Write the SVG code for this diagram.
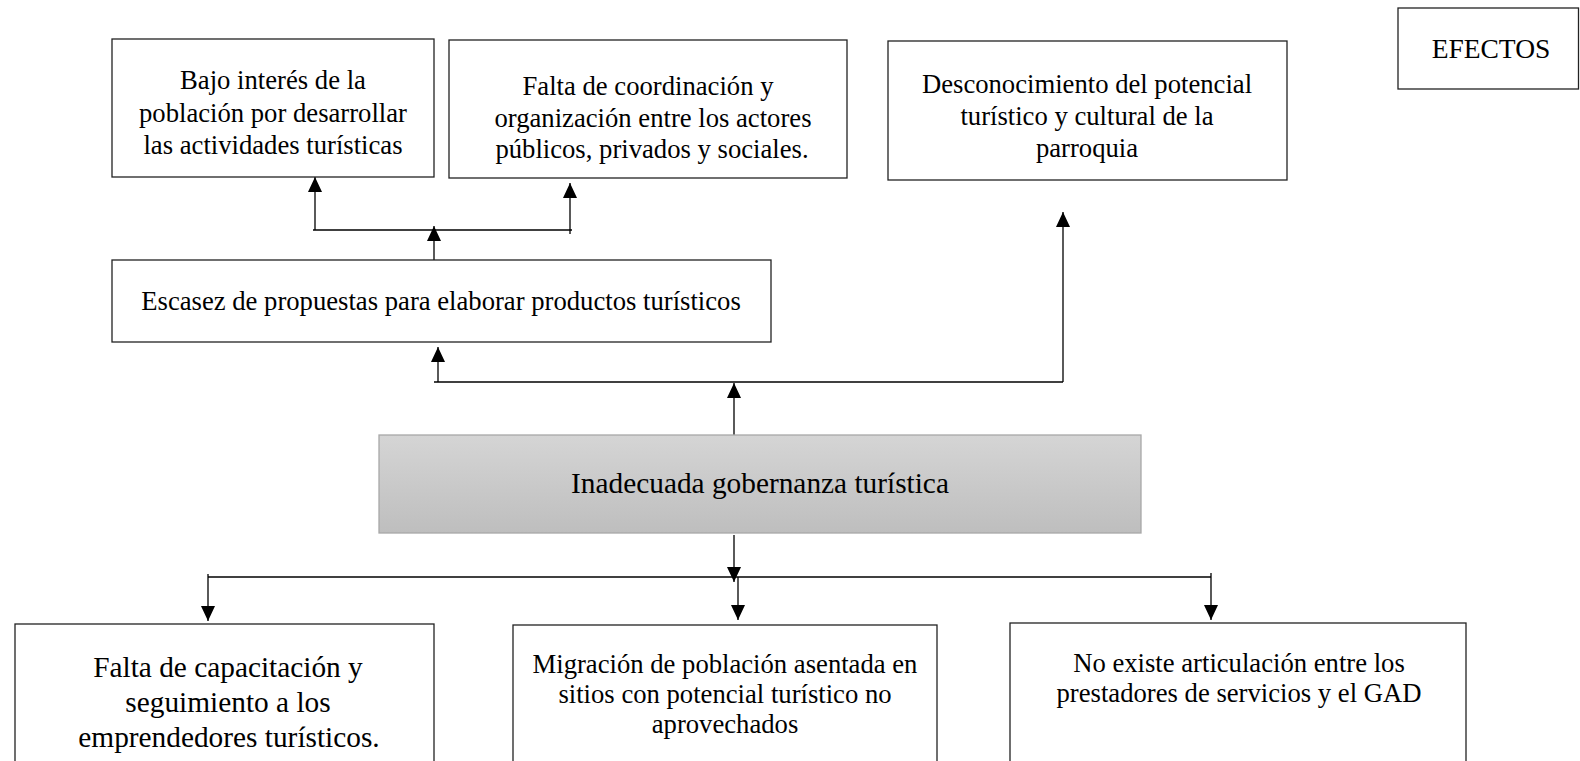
<svg xmlns="http://www.w3.org/2000/svg" width="1580" height="761" viewBox="0 0 1580 761">
  <defs>
    <style>
      .box { fill: #ffffff; stroke: #222222; stroke-width: 1.3; }
      .t { font-family: "Liberation Serif", "Times New Roman", serif; font-size: 26.67px; fill: #000000; text-anchor: middle; }
      .big { font-size: 29.33px; }
      .ln { fill: none; stroke: #000000; stroke-width: 1.3; }
      .arr { marker-end: url(#ah); }
    </style>
    <linearGradient id="grey" x1="0" y1="0" x2="0" y2="1">
      <stop offset="0" stop-color="#d5d5d5"/>
      <stop offset="1" stop-color="#bebebe"/>
    </linearGradient>
    <marker id="ah" markerUnits="userSpaceOnUse" viewBox="0 0 15 14" markerWidth="15" markerHeight="14" refX="15" refY="7" orient="auto">
      <path d="M0,0 L15,7 L0,14 Z" fill="#000000"/>
    </marker>
  </defs>

  <g id="connectors">
    <!-- Escasez up to effects -->
    <line class="ln arr" x1="434" y1="260" x2="434" y2="226"/>
    <line class="ln" x1="313" y1="230" x2="572" y2="230"/>
    <line class="ln arr" x1="315" y1="230" x2="315" y2="177"/>
    <line class="ln arr" x1="570" y1="234" x2="570" y2="183"/>
    <!-- Inadecuada up -->
    <line class="ln arr" x1="734" y1="435" x2="734" y2="383"/>
    <line class="ln" x1="434" y1="382" x2="1063" y2="382"/>
    <line class="ln arr" x1="438" y1="382" x2="438" y2="347"/>
    <line class="ln arr" x1="1063" y1="382" x2="1063" y2="212"/>
    <!-- Inadecuada down -->
    <line class="ln arr" x1="734" y1="535" x2="734" y2="582"/>
    <line class="ln" x1="208" y1="577" x2="1211" y2="577"/>
    <line class="ln arr" x1="208" y1="574" x2="208" y2="621"/>
    <line class="ln arr" x1="738" y1="577" x2="738" y2="620"/>
    <line class="ln arr" x1="1211" y1="573" x2="1211" y2="620"/>
  </g>

  <g id="efectos">
    <rect class="box" x="1398" y="8" width="180.5" height="81"/>
    <text class="t" x="1491" y="58" style="font-size:27.5px">EFECTOS</text>
  </g>

  <g id="bajo-interes">
    <rect class="box" x="112" y="39" width="322" height="138"/>
    <text class="t" x="273" y="89">Bajo interés de la</text>
    <text class="t" x="273" y="122">población por desarrollar</text>
    <text class="t" x="273" y="154">las actividades turísticas</text>
  </g>

  <g id="falta-coordinacion">
    <rect class="box" x="449" y="40" width="398" height="138"/>
    <text class="t" x="648" y="95">Falta de coordinación y</text>
    <text class="t" x="653" y="127">organización entre los actores</text>
    <text class="t" x="652" y="158">públicos, privados y sociales.</text>
  </g>

  <g id="desconocimiento">
    <rect class="box" x="888" y="41" width="399" height="139"/>
    <text class="t" x="1087" y="93">Desconocimiento del potencial</text>
    <text class="t" x="1087" y="125">turístico y cultural de la</text>
    <text class="t" x="1087" y="157">parroquia</text>
  </g>

  <g id="escasez">
    <rect class="box" x="112" y="260" width="659" height="82"/>
    <text class="t" x="441" y="310">Escasez de propuestas para elaborar productos turísticos</text>
  </g>

  <g id="inadecuada">
    <rect x="379" y="435" width="762" height="98" fill="url(#grey)" stroke="#a8a8a8" stroke-width="1.3"/>
    <text class="t big" x="760" y="493">Inadecuada gobernanza turística</text>
  </g>

  <g id="falta-capacitacion">
    <rect class="box" x="15" y="624" width="419" height="150"/>
    <text class="t big" x="228" y="677">Falta de capacitación y</text>
    <text class="t big" x="228" y="712">seguimiento a los</text>
    <text class="t big" x="229" y="747">emprendedores turísticos.</text>
  </g>

  <g id="migracion">
    <rect class="box" x="513" y="625" width="424" height="150"/>
    <text class="t" x="725" y="673">Migración de población asentada en</text>
    <text class="t" x="725" y="703">sitios con potencial turístico no</text>
    <text class="t" x="725" y="733">aprovechados</text>
  </g>

  <g id="no-articulacion">
    <rect class="box" x="1010" y="623" width="456" height="150"/>
    <text class="t" x="1239" y="672">No existe articulación entre los</text>
    <text class="t" x="1239" y="702">prestadores de servicios y el GAD</text>
  </g>
</svg>
